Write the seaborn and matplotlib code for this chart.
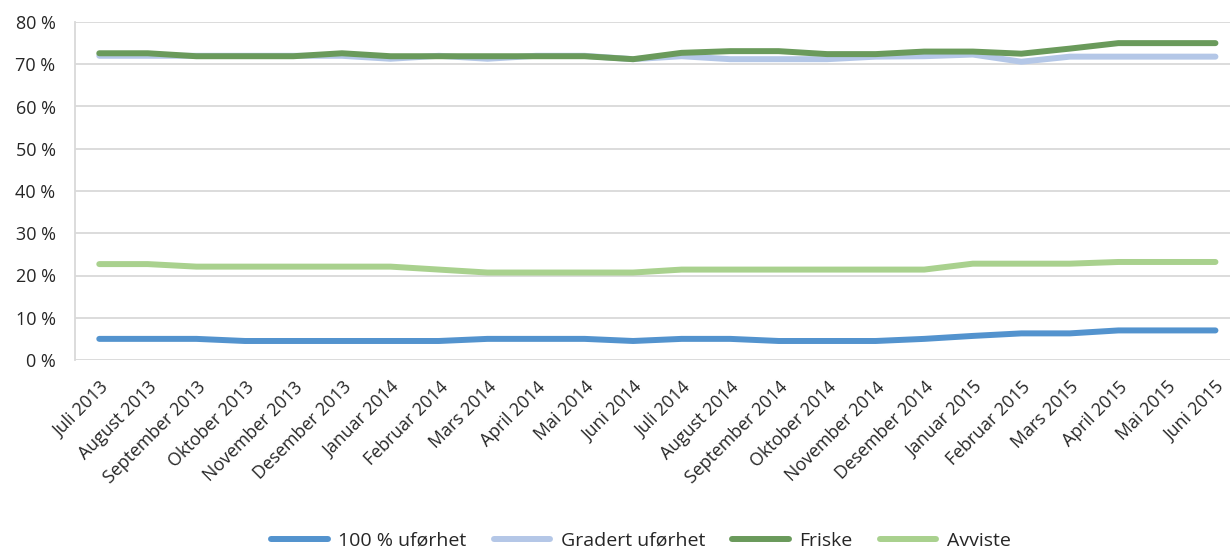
import matplotlib
matplotlib.use("Agg")
import matplotlib.pyplot as plt
import seaborn as sns
import pandas as pd
from matplotlib.ticker import FuncFormatter

months = ["Juli 2013", "August 2013", "September 2013", "Oktober 2013", "November 2013",
          "Desember 2013", "Januar 2014", "Februar 2014", "Mars 2014", "April 2014",
          "Mai 2014", "Juni 2014", "Juli 2014", "August 2014", "September 2014",
          "Oktober 2014", "November 2014", "Desember 2014", "Januar 2015", "Februar 2015",
          "Mars 2015", "April 2015", "Mai 2015", "Juni 2015"]

full_disability = [5.0, 5.0, 5.0, 4.5, 4.5, 4.5, 4.5, 4.5, 5.0, 5.0, 5.0, 4.5,
                   5.0, 5.0, 4.5, 4.5, 4.5, 5.0, 5.7, 6.3, 6.3, 7.0, 7.0, 7.0]
graded_disability = [72.0, 72.0, 72.0, 72.0, 72.0, 72.0, 71.3, 72.0, 71.3, 72.0, 72.0, 71.2,
                     71.9, 71.2, 71.2, 71.2, 71.8, 71.9, 72.3, 70.6, 71.8, 71.8, 71.8, 71.8]
healthy = [72.6, 72.6, 71.9, 71.9, 71.9, 72.6, 71.9, 71.9, 71.9, 71.9, 71.9, 71.2,
           72.7, 73.1, 73.1, 72.4, 72.4, 73.0, 73.0, 72.5, 73.7, 75.0, 75.0, 75.0]
rejected = [22.7, 22.7, 22.1, 22.1, 22.1, 22.1, 22.1, 21.4, 20.7, 20.7, 20.7, 20.7,
            21.4, 21.4, 21.4, 21.4, 21.4, 21.4, 22.8, 22.8, 22.8, 23.2, 23.2, 23.2]

series_names = ["100 % uførhet", "Gradert uførhet", "Friske", "Avviste"]
series_values = [full_disability, graded_disability, healthy, rejected]
colors = ["#5393CE", "#B4C7E7", "#6A9A5B", "#A9D18E"]

rows = []
for name, vals in zip(series_names, series_values):
    for i, v in enumerate(vals):
        rows.append({"idx": i, "value": v, "series": name})
df = pd.DataFrame(rows)

sns.set_theme(style="white")
plt.rcParams["font.family"] = ["Open Sans", "DejaVu Sans"]

fig = plt.figure(figsize=(12.3, 5.5), dpi=100)
ax = fig.add_axes([75 / 1230, 1 - 360 / 550, 1 - 75 / 1230, (360 - 22) / 550])

sns.lineplot(data=df, x="idx", y="value", hue="series", hue_order=series_names,
             palette=colors, linewidth=4.3, ax=ax, legend=False,
             solid_capstyle="round", solid_joinstyle="round")

ax.set_xlim(-0.5, 23.3)
ax.set_ylim(0, 80)
ax.set_yticks(range(0, 81, 10))
ax.yaxis.set_major_formatter(FuncFormatter(lambda v, p: f"{int(v)} %"))
ax.set_xticks(range(len(months)))
ax.set_xticklabels(months, rotation=45, ha="right", va="top", rotation_mode="anchor")
ax.tick_params(axis="y", length=0, pad=14, labelsize=13, colors="#262626")
ax.tick_params(axis="x", length=0, pad=13, labelsize=12.8, colors="#262626")
ax.set_xlabel("")
ax.set_ylabel("")

ax.grid(axis="y", color="#D9D9D9", linewidth=1.3)
ax.grid(axis="x", visible=False)
for side in ["top", "right", "bottom"]:
    ax.spines[side].set_visible(False)
ax.spines["left"].set_color("#D9D9D9")
ax.spines["left"].set_linewidth(1.3)

handles = [plt.Line2D([], [], color=c, linewidth=4.3, solid_capstyle="round") for c in colors]
fig.legend(handles, series_names, loc="center", bbox_to_anchor=(641 / 1230, 1 - 541 / 550),
           ncol=4, frameon=False, fontsize=14, handlelength=2.9, columnspacing=1.4,
           handletextpad=0.55, labelcolor="#262626")

fig.savefig("out.png", dpi=100)
